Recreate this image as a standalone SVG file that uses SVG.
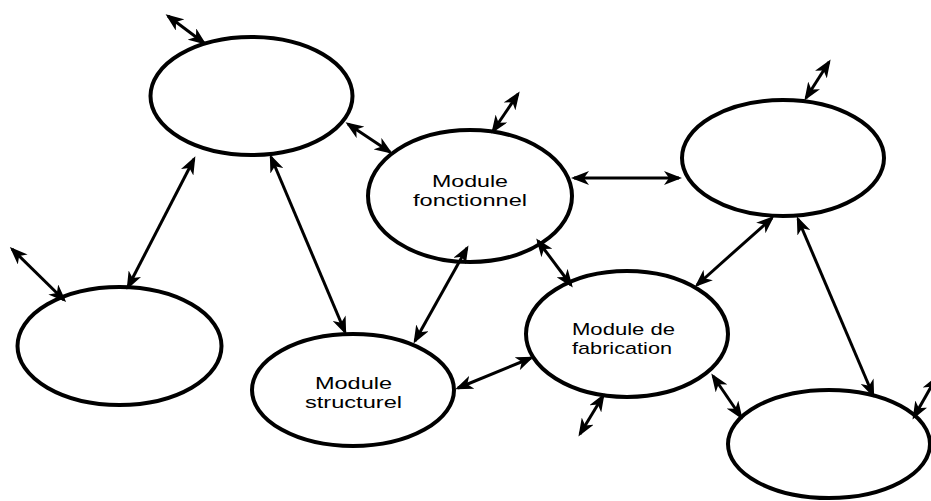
<svg xmlns="http://www.w3.org/2000/svg" width="931" height="501" viewBox="0 0 931 501">
<style>
.node ellipse{fill:#fff;stroke:#000;stroke-width:4}
.node text{font-family:"Liberation Sans",Arial,sans-serif;font-size:17px;fill:#000;text-anchor:middle}
#connectors line{stroke:#000;stroke-width:3;marker-start:url(#ah);marker-end:url(#ah)}
</style>
<defs>
<marker id="ah" markerUnits="userSpaceOnUse" markerWidth="18" markerHeight="14" viewBox="0 0 18 14" refX="15" refY="7" orient="auto-start-reverse">
<path d="M0,0 L18,7 L0,14 L5,7 z" fill="#000"/>
</marker>
</defs>
<rect width="931" height="501" fill="#fff"/>
<g id="nodeA" class="node"><ellipse cx="251.5" cy="96" rx="101" ry="59"/></g>
<g id="nodeB" class="node"><ellipse cx="470" cy="196" rx="102" ry="66"/><text x="470" y="187" textLength="76" lengthAdjust="spacingAndGlyphs">Module</text><text x="470" y="206" textLength="114" lengthAdjust="spacingAndGlyphs">fonctionnel</text></g>
<g id="nodeC" class="node"><ellipse cx="783" cy="158" rx="101" ry="58"/></g>
<g id="nodeD" class="node"><ellipse cx="119.5" cy="346" rx="102" ry="59"/></g>
<g id="nodeE" class="node"><ellipse cx="353" cy="390" rx="101" ry="56"/><text x="353.5" y="389" textLength="77" lengthAdjust="spacingAndGlyphs">Module</text><text x="353.5" y="408" textLength="97" lengthAdjust="spacingAndGlyphs">structurel</text></g>
<g id="nodeF" class="node"><ellipse cx="627" cy="334" rx="101" ry="63"/><text x="623.5" y="335" textLength="103" lengthAdjust="spacingAndGlyphs">Module de</text><text x="622" y="354" textLength="100" lengthAdjust="spacingAndGlyphs">fabrication</text></g>
<g id="nodeG" class="node"><ellipse cx="829" cy="444" rx="101" ry="54"/></g>
<g id="connectors">
<line x1="168" y1="16" x2="204" y2="43"/>
<line x1="348" y1="124" x2="390" y2="152"/>
<line x1="194" y1="159" x2="128" y2="287"/>
<line x1="271" y1="157" x2="345" y2="332"/>
<line x1="12" y1="249" x2="64" y2="300"/>
<line x1="493" y1="131" x2="518" y2="94"/>
<line x1="574" y1="178" x2="679" y2="178"/>
<line x1="806" y1="98" x2="829" y2="62"/>
<line x1="467" y1="248" x2="415" y2="341"/>
<line x1="538" y1="241" x2="571" y2="285"/>
<line x1="458" y1="388" x2="531" y2="358"/>
<line x1="603" y1="396" x2="580" y2="434"/>
<line x1="697" y1="285" x2="772" y2="218"/>
<line x1="798" y1="219" x2="873" y2="395"/>
<line x1="713" y1="376" x2="741" y2="417"/>
<line x1="914" y1="417" x2="936" y2="378"/>
</g>
</svg>
